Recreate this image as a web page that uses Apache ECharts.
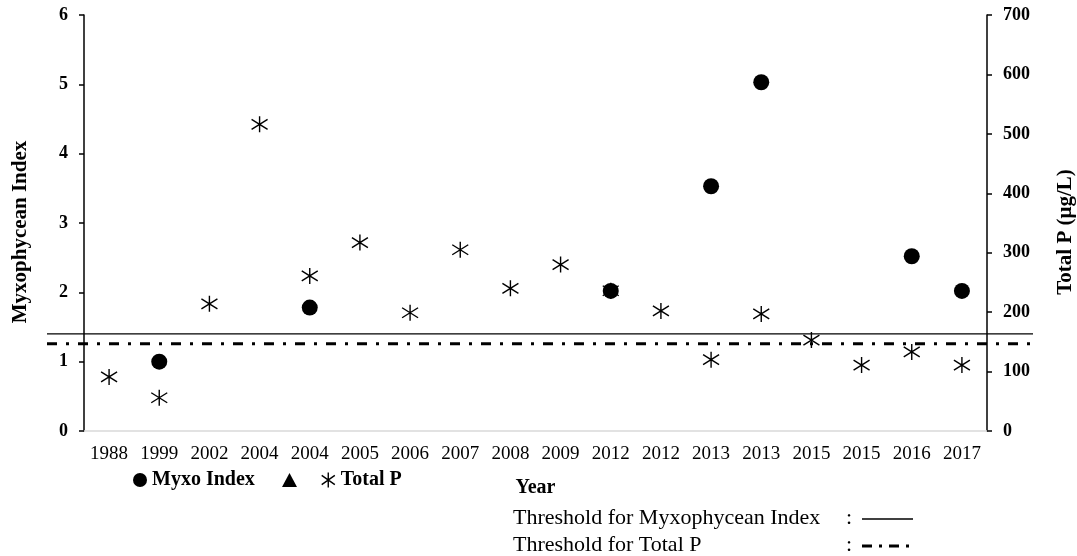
<!DOCTYPE html>
<html>
<head>
<meta charset="utf-8">
<script src="https://cdn.jsdelivr.net/npm/echarts@6/dist/echarts.min.js"></script>
<style>
html,body{margin:0;padding:0;background:#fff;}
#chart{width:1077px;height:556px;}
</style>
</head>
<body>
<div id="chart"></div>
<script>
const categories = ['1988','1999','2002','2004','2004','2005','2006','2007','2008','2009','2012','2012','2013','2013','2015','2015','2016','2017'];
const myxoIndex = [null,1.0,null,null,1.78,null,null,null,null,null,2.02,null,3.53,5.03,null,null,2.52,2.02];
const totalP = [91,56,214,516,261,317,199,305,240,280,236,202,120,197,153,111,133,111];
const myxoThreshold = 1.4;
const totalPThreshold = 147;
const leftAxis = {min:0, max:6, interval:1};
const rightAxis = {min:0, max:700, interval:100};

const serif = '"Liberation Serif", "Times New Roman", serif';
const asterisk = 'path://M8,0L8,16M1,3L15,13M1,13L15,3';

const chart = echarts.init(document.getElementById('chart'));
chart.setOption({
  animation:false,
  backgroundColor:'#fff',
  textStyle:{fontFamily:serif, color:'#000'},
  grid:[
    {left:84, right:90, top:15, bottom:125, containLabel:false, outerBoundsMode:'none'},
    {left:47, right:44, top:15, bottom:125, containLabel:false, outerBoundsMode:'none'}
  ],
  legend:[
    {data:[{name:'Myxo Index', icon:'circle'}], left:128, top:465, itemWidth:14, itemHeight:14, itemGap:0,
     textStyle:{fontFamily:serif, fontWeight:'bold', fontSize:20, color:'#000'}, selectedMode:false},
    {data:[{name:' ', icon:'triangle'}], left:277, top:465, itemWidth:15, itemHeight:14,
     textStyle:{fontFamily:serif, fontWeight:'bold', fontSize:20, color:'#000'}, selectedMode:false},
    {data:[{name:'Total P', icon:asterisk, itemStyle:{color:'transparent', borderColor:'#000', borderWidth:1.4}}], left:316, top:465, itemWidth:15, itemHeight:15,
     textStyle:{fontFamily:serif, fontWeight:'bold', fontSize:20, color:'#000'}, selectedMode:false}
  ],
  xAxis:[
    {type:'category', data:categories, gridIndex:0,
     name:'Year', nameLocation:'middle', nameGap:47,
     nameTextStyle:{fontFamily:serif, fontWeight:'bold', fontSize:20, color:'#000'},
     axisLine:{lineStyle:{color:'#d9d9d9', width:1.5}},
     axisTick:{show:false},
     axisLabel:{fontFamily:serif, fontSize:19, color:'#000', margin:14, interval:0},
     splitLine:{show:false}},
    {type:'value', gridIndex:1, min:0, max:1, show:false}
  ],
  yAxis:[
    {type:'value', gridIndex:0, position:'left', min:leftAxis.min, max:leftAxis.max, interval:leftAxis.interval,
     name:'Myxophycean Index', nameLocation:'middle', nameGap:53, nameRotate:90,
     nameTextStyle:{fontFamily:serif, fontWeight:'bold', fontSize:21, color:'#000', padding:[0,18,0,0]},
     axisLine:{show:true, lineStyle:{color:'#000', width:1.5}},
     axisTick:{show:true, length:5, lineStyle:{color:'#000', width:1.5}},
     axisLabel:{fontFamily:serif, fontWeight:'bold', fontSize:18, color:'#000', margin:16},
     splitLine:{show:false}},
    {type:'value', gridIndex:0, position:'right', min:rightAxis.min, max:rightAxis.max, interval:rightAxis.interval,
     name:'Total P (μg/L)', nameLocation:'middle', nameGap:68, nameRotate:90,
     nameTextStyle:{fontFamily:serif, fontWeight:'bold', fontSize:21, color:'#000', padding:[0,18,0,0]},
     axisLine:{show:true, lineStyle:{color:'#000', width:1.5}},
     axisTick:{show:true, length:5, lineStyle:{color:'#000', width:1.5}},
     axisLabel:{fontFamily:serif, fontWeight:'bold', fontSize:18, color:'#000', margin:16},
     splitLine:{show:false}},
    {type:'value', gridIndex:1, min:leftAxis.min, max:leftAxis.max, show:false},
    {type:'value', gridIndex:1, min:rightAxis.min, max:rightAxis.max, show:false}
  ],
  series:[
    {name:'Threshold Myxo', type:'line', xAxisIndex:1, yAxisIndex:2, symbol:'none', silent:true,
     data:[[0,myxoThreshold],[1,myxoThreshold]], lineStyle:{color:'#000', width:1.2}},
    {name:'Threshold TP', type:'line', xAxisIndex:1, yAxisIndex:3, symbol:'none', silent:true,
     data:[[0,totalPThreshold],[1,totalPThreshold]], lineStyle:{color:'#000', width:3, type:[10,9,3,9]}},
    {name:'Total P', type:'scatter', xAxisIndex:0, yAxisIndex:1, symbol:asterisk, symbolSize:16,
     data:totalP, itemStyle:{color:'transparent', borderColor:'#000', borderWidth:1.4, opacity:1}},
    {name:'Myxo Index', type:'scatter', xAxisIndex:0, yAxisIndex:0, symbol:'circle', symbolSize:16,
     data:myxoIndex, itemStyle:{color:'#000', opacity:1}},
    {name:' ', type:'scatter', xAxisIndex:0, yAxisIndex:0, symbol:'triangle', data:[], itemStyle:{color:'#000', opacity:1}}
  ],
  graphic:[
    {type:'text', left:513, top:507, style:{text:'Threshold for Myxophycean Index', font:'22px '+serif, fill:'#000'}},
    {type:'text', left:513, top:534, style:{text:'Threshold for Total P', font:'22px '+serif, fill:'#000'}},
    {type:'text', left:846, top:507, style:{text:':', font:'22px '+serif, fill:'#000'}},
    {type:'text', left:846, top:534, style:{text:':', font:'22px '+serif, fill:'#000'}},
    {type:'line', shape:{x1:862, y1:519, x2:913, y2:519}, style:{stroke:'#000', lineWidth:1.5}},
    {type:'line', shape:{x1:862, y1:546, x2:913, y2:546}, style:{stroke:'#000', lineWidth:3, lineDash:[10,7,3,7]}}
  ]
});
</script>
</body>
</html>
